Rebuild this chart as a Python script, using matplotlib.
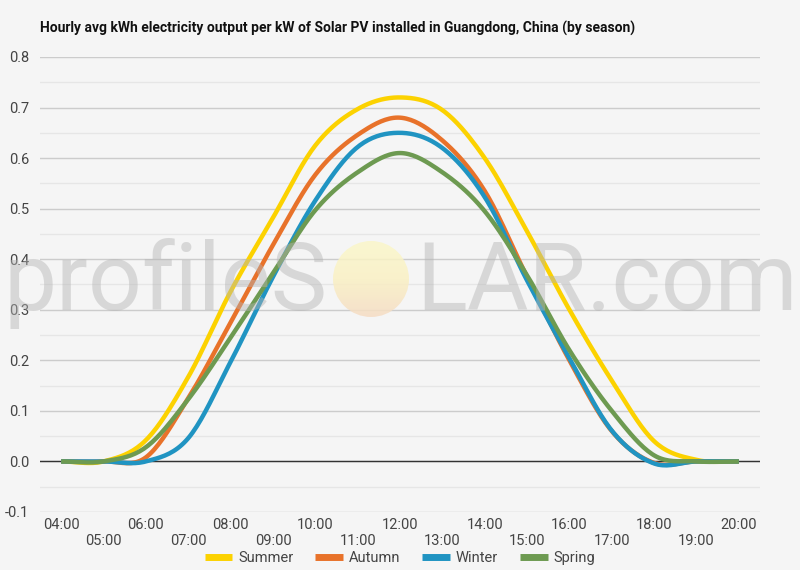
import numpy as np
import matplotlib.pyplot as plt
from matplotlib.patches import Circle
from matplotlib.colors import LinearSegmentedColormap

plt.rcParams['font.family'] = ['Roboto', 'DejaVu Sans']

# =========================
# Data
# =========================
hours = ["04:00", "05:00", "06:00", "07:00", "08:00", "09:00", "10:00", "11:00",
         "12:00", "13:00", "14:00", "15:00", "16:00", "17:00", "18:00", "19:00", "20:00"]

summer = [0.0, 0.0, 0.042, 0.167, 0.336, 0.482, 0.625, 0.697, 0.72, 0.695, 0.60, 0.455,
          0.30, 0.16, 0.04, 0.003, 0.0]
autumn = [0.0, 0.0, 0.008, 0.125, 0.275, 0.428, 0.567, 0.646, 0.68, 0.635, 0.535, 0.365,
          0.20, 0.06, -0.003, 0.0, 0.0]
winter = [0.0, 0.0, 0.0, 0.046, 0.197, 0.365, 0.516, 0.622, 0.65, 0.62, 0.523, 0.358,
          0.204, 0.061, -0.004, 0.0, 0.0]
spring = [0.0, 0.0, 0.028, 0.123, 0.245, 0.372, 0.497, 0.572, 0.61, 0.572, 0.495, 0.368,
          0.22, 0.10, 0.012, 0.0, 0.0]

series = [
    ("Summer", summer, "#fcd200"),
    ("Autumn", autumn, "#e8722a"),
    ("Winter", winter, "#2094c2"),
    ("Spring", spring, "#6d9a51"),
]

BG = "#f5f5f5"


def smooth(y, n=20):
    # Catmull-Rom spline through the hourly points (curved lines like the original)
    y = np.asarray(y, dtype=float)
    p = np.concatenate([[y[0]], y, [y[-1]]])
    xs, ys = [], []
    t = np.linspace(0, 1, n, endpoint=False)
    for i in range(len(y) - 1):
        p0, p1, p2, p3 = p[i], p[i + 1], p[i + 2], p[i + 3]
        seg = 0.5 * ((2 * p1) + (-p0 + p2) * t + (2 * p0 - 5 * p1 + 4 * p2 - p3) * t ** 2
                     + (-p0 + 3 * p1 - 3 * p2 + p3) * t ** 3)
        xs.append(i + t)
        ys.append(seg)
    xs.append([len(y) - 1])
    ys.append([y[-1]])
    return np.concatenate(xs), np.concatenate(ys)


fig = plt.figure(figsize=(8, 5.7), dpi=100, facecolor=BG)
ax = fig.add_axes([0.05, 0.1018, 0.90, 0.7982])
ax.set_facecolor(BG)

x = np.arange(len(hours))

# grid: major every 0.1, minor every 0.05
for k in range(-2, 17):
    v = k * 0.05
    ax.axhline(v, color="#cccccc" if k % 2 == 0 else "#e6e6e6", lw=1.0, zorder=0)
ax.axhline(0, color="#333333", lw=1.0, zorder=1)

for name, vals, col in series:
    sx, sy = smooth(vals)
    ax.plot(sx, sy, color=col, lw=3.2, label=name, solid_capstyle="butt", zorder=3)

ax.set_xlim(-0.5, len(hours) - 0.5)
ax.set_ylim(-0.1, 0.8)
yt = np.arange(-0.1, 0.81, 0.1)
ax.set_yticks(yt)
ax.set_yticklabels([f"{v:.1f}" for v in yt])
ax.set_xticks(x)
# staggered hour labels, odd hours on a second row
ax.set_xticklabels([h if i % 2 == 0 else "\n" + h for i, h in enumerate(hours)])
ax.tick_params(axis="both", length=0, labelsize=10.5, colors="#444444")
ax.tick_params(axis="x", pad=4)
ax.tick_params(axis="y", pad=8)
for s in ax.spines.values():
    s.set_visible(False)

# watermark
fig.text(327 / 800, 1 - 310 / 570, "profileS", ha="right", fontsize=68,
         color="#b4b4b4", alpha=0.45, va="baseline", zorder=5)
fig.text(416 / 800, 1 - 310 / 570, "LAR.com", ha="left", fontsize=68,
         color="#b4b4b4", alpha=0.45, va="baseline", zorder=5)

# sun in place of the "O"
sun_ax = fig.add_axes([(371 - 38) / 800, 1 - (279 + 38) / 570, 76 / 800, 76 / 570])
sun_ax.set_axis_off()
grad = np.linspace(0, 1, 100)[:, None]
cmap = LinearSegmentedColormap.from_list("sun", ["#fbf7c9", "#faf1c4", "#f6dcc3"])
img = sun_ax.imshow(grad, cmap=cmap, extent=[-1, 1, -1, 1], origin="upper", alpha=0.85)
img.set_clip_path(Circle((0, 0), 1, transform=sun_ax.transData))
sun_ax.set_xlim(-1, 1)
sun_ax.set_ylim(-1, 1)

fig.text(40 / 800, 1 - 28 / 570,
         "Hourly avg kWh electricity output per kW of Solar PV installed in Guangdong, China (by season)",
         fontsize=10, fontweight="bold", color="#111111", va="center", ha="left")

leg = fig.legend(loc="center", bbox_to_anchor=(0.5, 1 - 558 / 570), ncol=4, frameon=False,
                 fontsize=10.5, handlelength=1.9, handletextpad=0.4, columnspacing=1.5,
                 borderpad=0, borderaxespad=0)
for t in leg.get_texts():
    t.set_color("#444444")
for h in leg.get_lines():
    h.set_linewidth(5)

fig.savefig("out.png", dpi=100, facecolor=BG)
